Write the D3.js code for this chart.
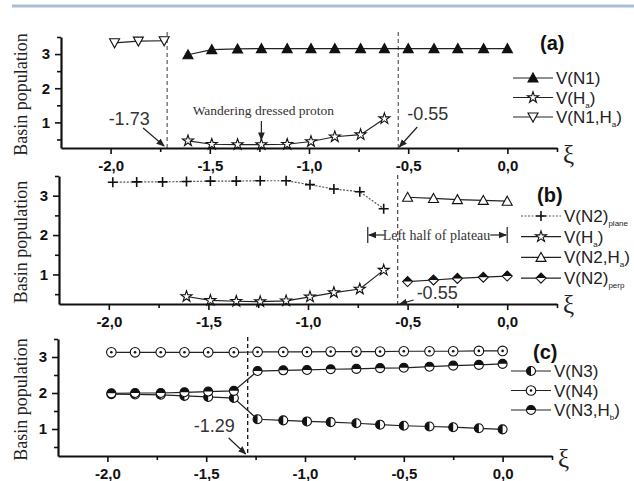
<!DOCTYPE html>
<html><head><meta charset="utf-8">
<script src="https://cdn.jsdelivr.net/npm/d3@7"></script>
<style>body{margin:0;background:#fff}svg{display:block}</style>
</head><body>
<script>
// ---------------- data ----------------
const xiGrid = [-1.98,-1.86,-1.73,-1.61,-1.49,-1.36,-1.24,-1.11,-0.99,-0.87,-0.74,-0.62,-0.50,-0.37,-0.25,-0.12,0.00];
const xTickValues = [-2,-1.5,-1,-0.5,0];
const xTickLabels = ["-2,0","-1,5","-1,0","-0,5","0,0"];
const xMinorTicks = [-1.75,-1.25,-0.75,-0.25,0.25];
const yTickValues = [1,2,3];
const yTickLabels = ["1","2","3"];
const yMinorTicks = [0.5,1.5,2.5,3.5];
const xDomain = [-2.25,0.25];
const yDomain = [0.25,3.5];

// panel (a)
const aN1   = [2.98,3.13,3.15,3.16,3.16,3.16,3.16,3.16,3.16,3.16,3.16,3.16,3.16,3.16]; // xi[3..16]
const aHa   = [0.46,0.36,0.35,0.35,0.36,0.44,0.58,0.64,1.11];                          // xi[3..11]
const aN1Ha = [3.33,3.38,3.39];                                                        // xi[0..2]
// panel (b)
const bN2plane = [3.34,3.35,3.35,3.36,3.37,3.37,3.38,3.38,3.28,3.17,3.10,2.67];        // xi[0..11]
const bHa      = [0.44,0.34,0.32,0.31,0.33,0.43,0.54,0.63,1.11];                       // xi[3..11]
const bN2Ha    = [2.96,2.93,2.90,2.88,2.86];                                           // xi[12..16]
const bN2perp  = [0.82,0.86,0.90,0.93,0.96];                                           // xi[12..16]
// panel (c)
const cN3   = [1.97,1.96,1.95,1.92,1.89,1.86,1.27,1.24,1.21,1.19,1.16,1.12,1.09,1.07,1.05,1.02,0.99];
const cN4   = [3.13,3.13,3.13,3.13,3.13,3.13,3.14,3.14,3.14,3.15,3.15,3.15,3.16,3.16,3.16,3.17,3.17];
const cN3Hb = [1.99,2.00,2.00,2.02,2.04,2.06,2.61,2.63,2.64,2.66,2.67,2.69,2.70,2.73,2.76,2.78,2.81];

const panelNames = ["(a)","(b)","(c)"];
const critical = {a:[-1.715,-0.55], b:[-0.55], c:[-1.29]};
const criticalLabels = {a:["-1.73","-0.55"], b:["-0.55"], c:["-1.29"]};
const plateau = [-0.70, 0.0];

// ---------------- drawing ----------------
const SANS = "'Liberation Sans', Arial, sans-serif";
const SERIF = "'Liberation Serif', 'Times New Roman', serif";
const W = 634, H = 481;
const svg = d3.select("body").append("svg").attr("width",W).attr("height",H);
const defs = svg.append("defs");
defs.append("marker").attr("id","ah").attr("viewBox","0 0 10 10").attr("refX",9).attr("refY",5)
  .attr("markerWidth",7).attr("markerHeight",7).attr("orient","auto-start-reverse")
  .append("path").attr("d","M0,1L10,5L0,9Z").attr("fill","#222");

svg.append("line").attr("x1",12).attr("x2",W).attr("y1",6).attr("y2",6)
  .attr("stroke","#a9bfd5").attr("stroke-width",3);

function marker(sel, type, cx, cy){
  const g = sel.append("g").attr("transform",`translate(${cx},${cy})`);
  const s = p => p.attr("stroke","#111").attr("stroke-width",1.1);
  const r = 4.5;
  switch(type){
    case "triFill": s(g.append("path").attr("d","M0,-5L5,4L-5,4Z").attr("fill","#111")); break;
    case "triOpen": s(g.append("path").attr("d","M0,-5L5,4L-5,4Z").attr("fill","#fff")); break;
    case "triDown": s(g.append("path").attr("d","M-5,-4L5,-4L0,5Z").attr("fill","#fff")); break;
    case "star": s(g.append("path").attr("d",d3.symbol(d3.symbolStar,38)()).attr("fill","#fff")); break;
    case "plus": g.append("path").attr("d","M-5,0H5M0,-5V5").attr("stroke","#111").attr("stroke-width",1.6); break;
    case "diamondHalf":
      s(g.append("path").attr("d","M-5,0L0,-5L5,0L0,5Z").attr("fill","#fff"));
      g.append("path").attr("d","M-5,0L0,-5L5,0Z").attr("fill","#111"); break;
    case "circLeft":
      s(g.append("circle").attr("r",r).attr("fill","#fff"));
      g.append("path").attr("d",`M0,${-r}A${r},${r} 0 0 0 0,${r}Z`).attr("fill","#111"); break;
    case "circTop":
      s(g.append("circle").attr("r",r).attr("fill","#fff"));
      g.append("path").attr("d",`M${-r},0A${r},${r} 0 0 1 ${r},0Z`).attr("fill","#111"); break;
    case "circDot":
      s(g.append("circle").attr("r",r+0.3).attr("fill","#fff"));
      g.append("circle").attr("r",1.3).attr("fill","#111"); break;
  }
}

function richText(t, str, size){
  const parts = str.split(/_\{([^}]*)\}/);
  parts.forEach((p,i)=>{
    if(!p) return;
    if(i%2===0){
      t.append("tspan").attr("font-size",size).attr("dy", i>0? -4: 0).text(p);
    } else {
      t.append("tspan").attr("font-size",8).attr("dy",4).text(p);
    }
  });
}

function drawPanel(p){
  const x = d3.scaleLinear().domain(xDomain).range([p.x0,p.x1]);
  const y = d3.scaleLinear().domain(yDomain).range([p.y1,p.y0]);
  const g = svg.append("g");

  // dashed critical lines
  p.crit.forEach(c=>{
    g.append("line").attr("x1",x(c)).attr("x2",x(c)).attr("y1",p.dashTop).attr("y2",p.y1)
      .attr("stroke",p.dashColor).attr("stroke-width",1.3).attr("stroke-dasharray","4,3");
  });

  // series
  const line = d3.line().x(d=>x(d[0])).y(d=>y(d[1]));
  p.series.forEach(s=>{
    const pts = s.ys.map((v,i)=>[s.xs[i],v]);
    g.append("path").attr("d",line(pts)).attr("fill","none")
      .attr("stroke", s.dash? "#555":"#222").attr("stroke-width",1.2)
      .attr("stroke-dasharray", s.dash||null);
    pts.forEach(d=>marker(g,s.marker,x(d[0]),y(d[1])));
  });

  // axes
  g.append("g").attr("transform",`translate(0,${p.y1})`)
    .call(d3.axisBottom(x).tickValues(xTickValues).tickFormat((d,i)=>xTickLabels[i])
      .tickSize(6).tickSizeOuter(0).tickPadding(6));
  g.append("g").attr("transform",`translate(0,${p.y1})`)
    .call(d3.axisBottom(x).tickValues(xMinorTicks).tickFormat("").tickSize(4).tickSizeOuter(0))
    .select(".domain").remove();
  g.append("g").attr("transform",`translate(${p.x0},0)`)
    .call(d3.axisLeft(y).tickValues(yTickValues).tickFormat((d,i)=>yTickLabels[i])
      .tickSize(6).tickSizeOuter(0).tickPadding(5));
  g.append("g").attr("transform",`translate(${p.x0},0)`)
    .call(d3.axisLeft(y).tickValues(yMinorTicks).tickFormat("").tickSize(4).tickSizeOuter(0))
    .select(".domain").remove();
  g.selectAll(".domain").attr("stroke","#111").attr("stroke-width",2.2);
  g.selectAll(".tick line").attr("stroke","#111").attr("stroke-width",1.6);
  g.selectAll(".tick text").attr("font-family",SANS).attr("font-weight","bold")
    .attr("font-size",15).attr("fill","#111");

  // axis titles
  g.append("text").attr("transform",`translate(27,${(p.y0+p.y1)/2+2}) rotate(-90)`)
    .attr("text-anchor","middle").attr("font-family",SERIF).attr("font-size",18)
    .attr("fill","#222").text("Basin population");
  g.append("text").attr("x",p.x1+6).attr("y",p.xiY).attr("font-family",SERIF)
    .attr("font-size",25).attr("fill","#222").text("ξ");

  // panel name
  g.append("text").attr("x",p.nameX).attr("y",p.nameY).attr("font-family",SANS)
    .attr("font-weight","bold").attr("font-size",20).attr("fill","#111").text(p.name);

  // legend
  p.series.forEach((s,i)=>{
    const ly = p.legY + i*p.legDy;
    g.append("line").attr("x1",p.legX).attr("x2",p.legX+40).attr("y1",ly).attr("y2",ly)
      .attr("stroke",s.dash?"#555":"#222").attr("stroke-width",1.2).attr("stroke-dasharray",s.dash||null);
    marker(g,s.marker,p.legX+20,ly);
    const t = g.append("text").attr("x",p.legX+43).attr("y",ly+6).attr("font-family",SANS)
      .attr("fill","#222");
    richText(t,s.name,17);
  });

  p.extra && p.extra(g,x,y);
}

function ann(g, txt, tx, ty, anchor, ax1, ay1, ax2, ay2){
  g.append("text").attr("x",tx).attr("y",ty).attr("text-anchor",anchor).attr("font-family",SANS)
    .attr("font-size",18).attr("fill","#333").text(txt);
  g.append("line").attr("x1",ax1).attr("y1",ay1).attr("x2",ax2).attr("y2",ay2)
    .attr("stroke","#222").attr("stroke-width",1.2).attr("marker-end","url(#ah)");
}

drawPanel({
  name:panelNames[0], x0:61, x1:557, y0:37, y1:148, dashTop:32, dashColor:"#666",
  crit:critical.a, xiY:163, nameX:540, nameY:50, legX:513, legY:78, legDy:19.5,
  series:[
    {name:"V(N1)", xs:xiGrid.slice(3), ys:aN1, marker:"triFill"},
    {name:"V(H_{a})", xs:xiGrid.slice(3,12), ys:aHa, marker:"star"},
    {name:"V(N1,H_{a})", xs:xiGrid.slice(0,3), ys:aN1Ha, marker:"triDown"}
  ],
  extra:(g,x,y)=>{
    const d1 = x(critical.a[0]), d2 = x(critical.a[1]), yb = y(yDomain[0]);
    ann(g,criticalLabels.a[0], d1-38, yb-23, "middle", d1-24, yb-20, d1-3, yb-2);
    ann(g,criticalLabels.a[1], d2+9, yb-28, "start", d2+19, yb-21, d2+1, yb-1);
    const xw = x(xiGrid[6]);
    g.append("text").attr("x",xw+2).attr("y",yb-33).attr("text-anchor","middle")
      .attr("font-family",SERIF).attr("font-size",13.5).attr("fill","#333").text("Wandering dressed proton");
    g.append("line").attr("x1",xw).attr("x2",xw).attr("y1",yb-27).attr("y2",yb-8)
      .attr("stroke","#222").attr("stroke-width",1.2).attr("marker-end","url(#ah)");
  }
});

drawPanel({
  name:panelNames[1], x0:59, x1:557, y0:176, y1:304, dashTop:175, dashColor:"#555",
  crit:critical.b, xiY:313, nameX:537, nameY:202, legX:521, legY:216, legDy:20.7,
  series:[
    {name:"V(N2)_{plane}", xs:xiGrid.slice(0,12), ys:bN2plane, marker:"plus", dash:"2,1.5"},
    {name:"V(H_{a})", xs:xiGrid.slice(3,12), ys:bHa, marker:"star"},
    {name:"V(N2,H_{a})", xs:xiGrid.slice(12), ys:bN2Ha, marker:"triOpen"},
    {name:"V(N2)_{perp}", xs:xiGrid.slice(12), ys:bN2perp, marker:"diamondHalf"}
  ],
  extra:(g,x,y)=>{
    const d = x(critical.b[0]), yb = y(yDomain[0]);
    ann(g,criticalLabels.b[0], d+19, yb-5, "start", d+16, yb-4, d+2, yb);
    const l = x(plateau[0]), r = x(plateau[1]), ym = 235;
    [l,r].forEach(v=>g.append("line").attr("x1",v).attr("x2",v).attr("y1",ym-8).attr("y2",ym+8)
      .attr("stroke","#222").attr("stroke-width",1.2));
    g.append("text").attr("x",(l+r)/2-1).attr("y",ym+5).attr("text-anchor","middle")
      .attr("font-family",SERIF).attr("font-size",14).attr("fill","#333").text("Left half of plateau");
    g.append("line").attr("x1",l+17).attr("x2",l+1).attr("y1",ym).attr("y2",ym)
      .attr("stroke","#222").attr("stroke-width",1.2).attr("marker-end","url(#ah)");
    g.append("line").attr("x1",r-17).attr("x2",r-1).attr("y1",ym).attr("y2",ym)
      .attr("stroke","#222").attr("stroke-width",1.2).attr("marker-end","url(#ah)");
  }
});

drawPanel({
  name:panelNames[2], x0:58, x1:552, y0:339, y1:456, dashTop:337, dashColor:"#111",
  crit:critical.c, xiY:467, nameX:533, nameY:359, legX:511, legY:371, legDy:19.5,
  series:[
    {name:"V(N3)", xs:xiGrid, ys:cN3, marker:"circLeft"},
    {name:"V(N4)", xs:xiGrid, ys:cN4, marker:"circDot"},
    {name:"V(N3,H_{b})", xs:xiGrid, ys:cN3Hb, marker:"circTop"}
  ],
  extra:(g,x,y)=>{
    const d = x(critical.c[0]), yb = y(yDomain[0]);
    ann(g,criticalLabels.c[0], d-54, yb-24, "start", d-19, yb-18, d-2, yb-2);
  }
});
</script>
</body></html>
